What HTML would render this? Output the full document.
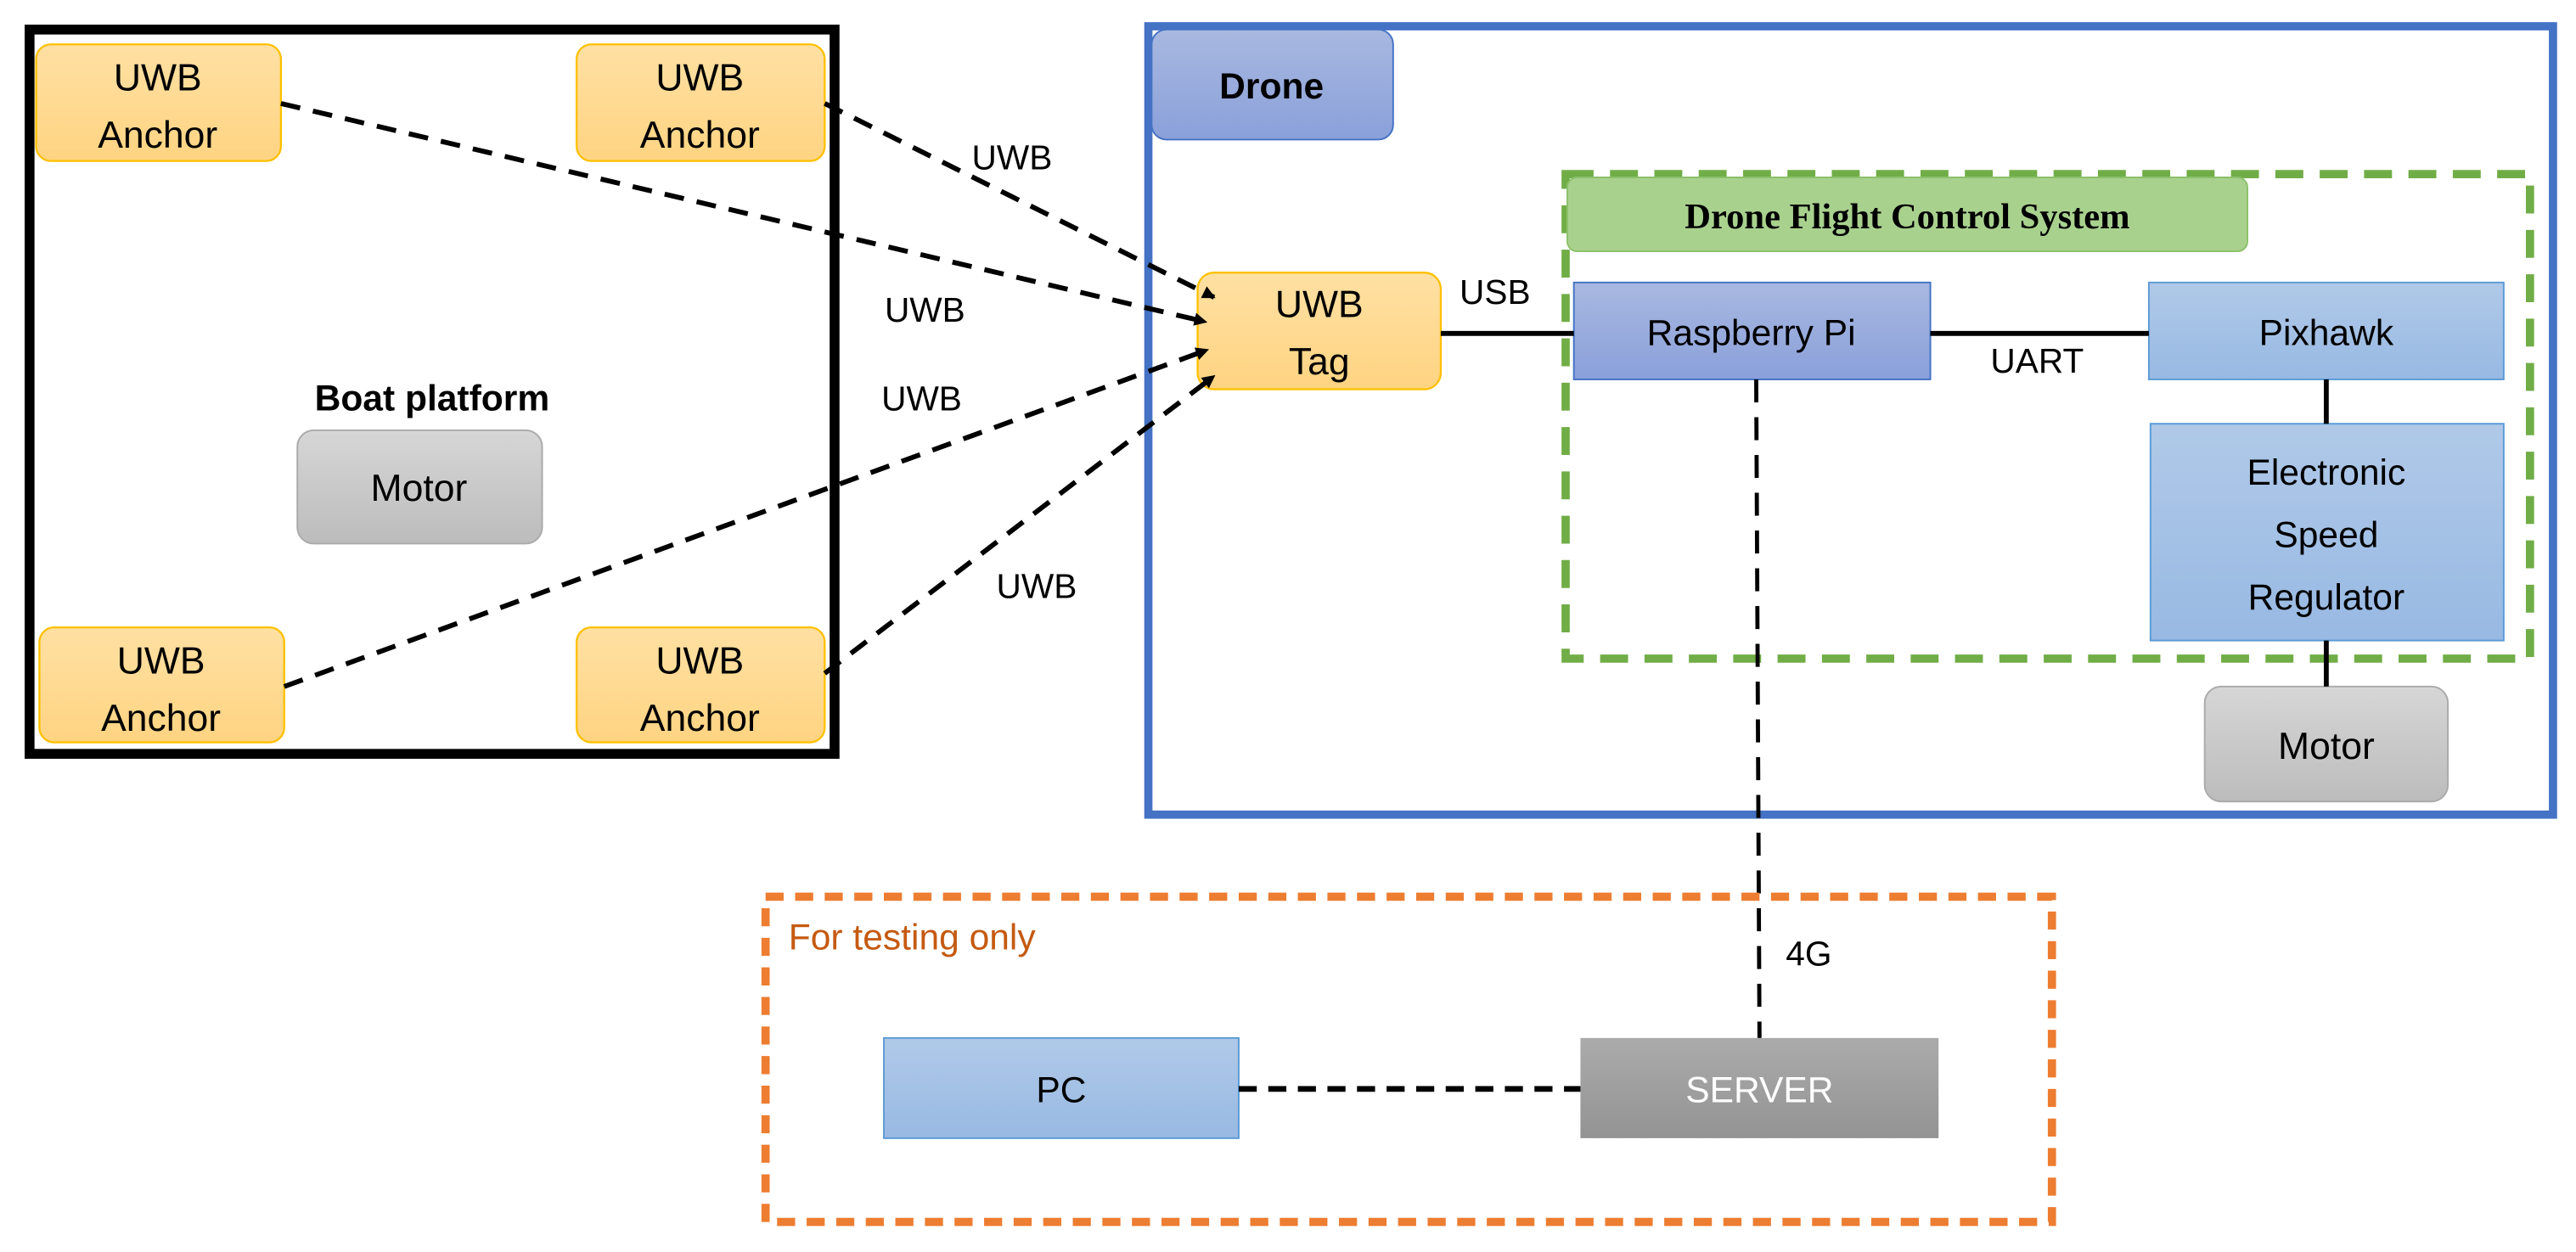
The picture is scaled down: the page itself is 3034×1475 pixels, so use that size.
<!DOCTYPE html>
<html><head><meta charset="utf-8"><style>
html,body{margin:0;padding:0;background:#fff;}
svg{display:block;}
text{font-family:"Liberation Sans",sans-serif;}
</style></head><body>
<svg width="3034" height="1475" viewBox="0 0 1568 762.3" preserveAspectRatio="none" xmlns="http://www.w3.org/2000/svg">
<defs>
<linearGradient id="gy" x1="0" y1="0" x2="0" y2="1"><stop offset="0" stop-color="#ffe0a3"/><stop offset="1" stop-color="#ffd482"/></linearGradient>
<linearGradient id="gb" x1="0" y1="0" x2="0" y2="1"><stop offset="0" stop-color="#a8b8e0"/><stop offset="1" stop-color="#8aa0da"/></linearGradient>
<linearGradient id="gl" x1="0" y1="0" x2="0" y2="1"><stop offset="0" stop-color="#b0c9e8"/><stop offset="1" stop-color="#98b9e3"/></linearGradient>
<linearGradient id="gg" x1="0" y1="0" x2="0" y2="1"><stop offset="0" stop-color="#d6d6d6"/><stop offset="1" stop-color="#bcbcbc"/></linearGradient>
<linearGradient id="gs" x1="0" y1="0" x2="0" y2="1"><stop offset="0" stop-color="#ababab"/><stop offset="1" stop-color="#939393"/></linearGradient>
<marker id="ar" markerWidth="8" markerHeight="8" refX="7" refY="4" orient="auto" markerUnits="userSpaceOnUse"><path d="M0,0 L8,4 L0,8 Z" fill="#000"/></marker>
</defs>

<!-- Boat platform -->
<rect x="18" y="18" width="490" height="441" fill="none" stroke="#000" stroke-width="6"/>
<g stroke="#ffc000" stroke-width="1.2" fill="url(#gy)">
<rect x="22" y="27" width="149" height="71" rx="9"/>
<rect x="351" y="27" width="151" height="71" rx="9"/>
<rect x="24" y="382" width="149" height="70" rx="9"/>
<rect x="351" y="382" width="151" height="70" rx="9"/>
</g>
<g font-size="23" text-anchor="middle" fill="#000">
<text x="96" y="55">UWB</text><text x="96" y="90">Anchor</text>
<text x="426" y="55">UWB</text><text x="426" y="90">Anchor</text>
<text x="98" y="410">UWB</text><text x="98" y="445">Anchor</text>
<text x="426" y="410">UWB</text><text x="426" y="445">Anchor</text>
</g>
<text x="263" y="250" font-size="22" font-weight="bold" text-anchor="middle">Boat platform</text>
<rect x="181" y="262" width="149" height="69" rx="10" fill="url(#gg)" stroke="#aaa" stroke-width="1"/>
<text x="255" y="305" font-size="23" text-anchor="middle">Motor</text>

<!-- Drone box -->
<rect x="699" y="16" width="855" height="480" fill="none" stroke="#4472c4" stroke-width="5"/>
<rect x="701" y="18" width="147" height="67" rx="9" fill="url(#gb)" stroke="#4472c4" stroke-width="1"/>
<text x="774" y="60" font-size="22" font-weight="bold" text-anchor="middle">Drone</text>

<!-- Green dashed -->
<rect x="953" y="106" width="587" height="295" fill="none" stroke="#70ad47" stroke-width="5" stroke-dasharray="17,10"/>
<rect x="954" y="108" width="414" height="45" rx="6" fill="#a9d18e" stroke="#8cc16b" stroke-width="1"/>
<text x="1161" y="139" font-size="22" font-weight="bold" text-anchor="middle" style="font-family:'Liberation Serif',serif">Drone Flight Control System</text>

<!-- UWB Tag -->
<rect x="729" y="166" width="148" height="71" rx="10" fill="url(#gy)" stroke="#ffc000" stroke-width="1.2"/>
<text x="803" y="193" font-size="23" text-anchor="middle">UWB</text>
<text x="803" y="228" font-size="23" text-anchor="middle">Tag</text>

<!-- Raspberry Pi / Pixhawk / ESC -->
<rect x="958" y="172" width="217" height="59" fill="url(#gb)" stroke="#4472c4" stroke-width="1"/>
<text x="1066" y="210" font-size="22" text-anchor="middle">Raspberry Pi</text>
<rect x="1308" y="172" width="216" height="59" fill="url(#gl)" stroke="#5b9bd5" stroke-width="1"/>
<text x="1416" y="210" font-size="22" text-anchor="middle">Pixhawk</text>
<rect x="1309" y="258" width="215" height="132" fill="url(#gl)" stroke="#5b9bd5" stroke-width="1"/>
<text x="1416" y="295" font-size="22" text-anchor="middle">Electronic</text>
<text x="1416" y="333" font-size="22" text-anchor="middle">Speed</text>
<text x="1416" y="371" font-size="22" text-anchor="middle">Regulator</text>
<rect x="1342" y="418" width="148" height="70" rx="10" fill="url(#gg)" stroke="#aaa" stroke-width="1"/>
<text x="1416" y="462" font-size="23" text-anchor="middle">Motor</text>

<!-- solid lines -->
<g stroke="#000" stroke-width="3">
<line x1="877" y1="203" x2="958" y2="203"/>
<line x1="1175" y1="203" x2="1308" y2="203"/>
<line x1="1416" y1="231" x2="1416" y2="258"/>
<line x1="1416" y1="390" x2="1416" y2="418"/>
</g>
<text x="910" y="185" font-size="21" text-anchor="middle">USB</text>
<text x="1240" y="227" font-size="21" text-anchor="middle">UART</text>

<!-- UWB dashed arrows -->
<g stroke="#000" stroke-width="3" stroke-dasharray="12,8" fill="none" marker-end="url(#ar)">
<line x1="171" y1="63" x2="734" y2="196"/>
<line x1="502" y1="63" x2="739" y2="181"/>
<line x1="173" y1="418" x2="735" y2="213"/>
<line x1="502" y1="410" x2="739" y2="229"/>
</g>
<g font-size="21" text-anchor="middle">
<text x="616" y="103">UWB</text>
<text x="563" y="196">UWB</text>
<text x="561" y="250">UWB</text>
<text x="631" y="364">UWB</text>
</g>

<!-- 4G -->
<line x1="1069" y1="231" x2="1071" y2="632" stroke="#000" stroke-width="2.5" stroke-dasharray="14,9"/>
<text x="1101" y="588" font-size="21" text-anchor="middle">4G</text>

<!-- testing box -->
<rect x="466" y="546" width="783" height="198" fill="none" stroke="#ed7d31" stroke-width="5" stroke-dasharray="11,7"/>
<text x="480" y="578" font-size="22" fill="#c55a11">For testing only</text>
<rect x="538" y="632" width="216" height="61" fill="url(#gl)" stroke="#5b9bd5" stroke-width="1"/>
<text x="646" y="671" font-size="22" text-anchor="middle">PC</text>
<rect x="962" y="632" width="218" height="61" fill="url(#gs)"/>
<text x="1071" y="671" font-size="22" text-anchor="middle" fill="#fff">SERVER</text>
<line x1="754" y1="663" x2="962" y2="663" stroke="#000" stroke-width="3.5" stroke-dasharray="11,7"/>
</svg>
</body></html>
